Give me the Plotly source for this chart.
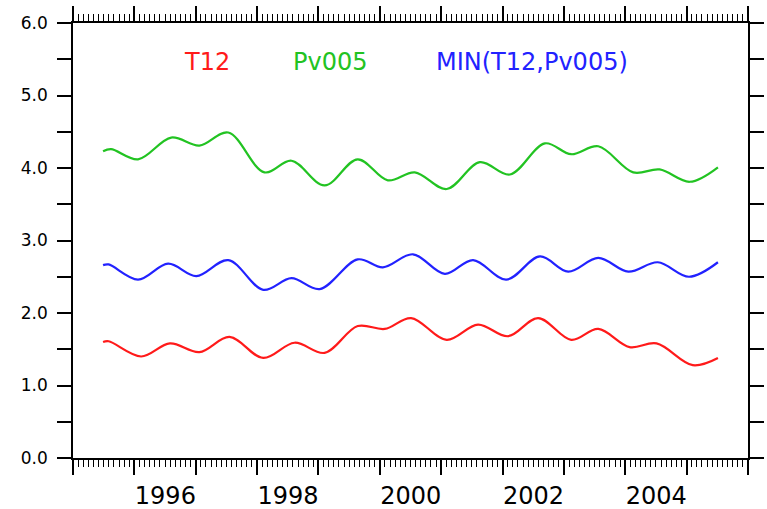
import plotly.graph_objects as go

# ---- data ----
t12_x = [1995.49, 1995.58, 1996.11, 1996.58, 1997.06, 1997.55, 1998.10, 1998.61, 1999.10, 1999.64, 2000.08,
         2000.51, 2001.09, 2001.60, 2002.09, 2002.58, 2003.12, 2003.56, 2004.07, 2004.51, 2005.10, 2005.51]
t12_y = [1.60, 1.61, 1.40, 1.58, 1.46, 1.67, 1.38, 1.59, 1.45, 1.82, 1.78,
         1.93, 1.63, 1.84, 1.68, 1.93, 1.63, 1.78, 1.53, 1.58, 1.28, 1.38]

pv_x = [1995.49, 1995.62, 1996.06, 1996.60, 1997.06, 1997.53, 1998.12, 1998.56, 1999.10, 1999.64, 2000.13,
        2000.57, 2001.09, 2001.63, 2002.12, 2002.69, 2003.12, 2003.56, 2004.13, 2004.56, 2005.05, 2005.51]
pv_y = [4.23, 4.26, 4.12, 4.42, 4.31, 4.49, 3.94, 4.10, 3.76, 4.12, 3.83,
        3.94, 3.71, 4.08, 3.91, 4.34, 4.19, 4.30, 3.94, 3.98, 3.81, 4.01]

min_x = [1995.49, 1995.58, 1996.06, 1996.55, 1997.01, 1997.53, 1998.10, 1998.56, 1999.02, 1999.64, 2000.05,
         2000.54, 2001.06, 2001.52, 2002.06, 2002.61, 2003.07, 2003.56, 2004.05, 2004.53, 2005.04, 2005.51]
min_y = [2.66, 2.67, 2.46, 2.68, 2.51, 2.73, 2.32, 2.48, 2.33, 2.74, 2.63,
         2.81, 2.54, 2.73, 2.46, 2.78, 2.57, 2.76, 2.57, 2.70, 2.50, 2.70]

series_names = ["T12", "Pv005", "MIN(T12,Pv005)"]
series_colors = ["#ff1a1a", "#22c322", "#2222ff"]

x_years = list(range(1995, 2007))
x_labels = [str(y) if (y % 2 == 0 and 1996 <= y <= 2004) else "" for y in x_years]
y_ticks = [i * 0.5 for i in range(13)]
y_labels = [f"{v:.1f}" if v == int(v) else "" for v in y_ticks]

fig = go.Figure()
for xs, ys, name, col in [(t12_x, t12_y, series_names[0], series_colors[0]),
                          (pv_x, pv_y, series_names[1], series_colors[1]),
                          (min_x, min_y, series_names[2], series_colors[2])]:
    fig.add_trace(go.Scatter(x=xs, y=ys, mode="lines", name=name,
                             line=dict(color=col, width=2.2, shape="spline", smoothing=1.0),
                             showlegend=False))

# text legend
leg_pos = [0.198, 0.380, 0.680]
for name, col, px in zip(series_names, series_colors, leg_pos):
    fig.add_annotation(text=name, x=px, y=0.911, xref="paper", yref="paper",
                       showarrow=False, font=dict(family="DejaVu Sans", size=24, color=col),
                       xanchor="center", yanchor="middle")

fig.update_layout(
    width=767, height=509,
    margin=dict(l=73, r=19, t=23, b=51),
    paper_bgcolor="white", plot_bgcolor="white",
    font=dict(family="DejaVu Sans", color="black"),
)
fig.update_xaxes(
    range=[1995, 2006], showgrid=False, zeroline=False, automargin=False,
    showline=True, linecolor="black", linewidth=1.5, mirror="ticks",
    tickmode="array", tickvals=x_years, ticktext=x_labels,
    ticks="outside", ticklen=15, tickwidth=1.5, tickcolor="black",
    ticklabelshift=31, ticklabelstandoff=0,
    tickfont=dict(family="DejaVu Sans", size=24, color="black"),
    minor=dict(tickmode="linear", tick0=1995, dtick=1/12, ticks="outside", ticklen=7,
               tickwidth=1, tickcolor="black", showgrid=False),
)
fig.update_yaxes(
    range=[0, 6], showgrid=False, zeroline=False, automargin=False,
    showline=True, linecolor="black", linewidth=1.5, mirror="ticks",
    tickmode="array", tickvals=y_ticks, ticktext=y_labels,
    ticks="outside", ticklen=14, tickwidth=1.5, tickcolor="black",
    ticklabelstandoff=6,
    tickfont=dict(family="DejaVu Sans", size=17, color="black"),
)

fig.write_html("out.html")
